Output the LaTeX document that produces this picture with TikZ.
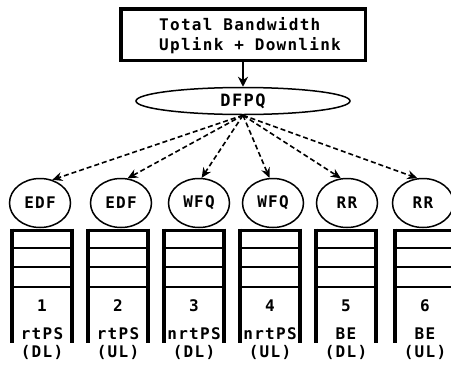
\documentclass[tikz,border=0pt]{standalone}
\usepackage{fontspec}
\usetikzlibrary{arrows.meta,shapes.geometric}
\newfontfamily\labfont[LetterSpace=8]{DejaVu Sans Mono}
\begin{document}
\begin{tikzpicture}[x=1pt,y=-1pt,
  lab/.style={font={\labfont\bfseries\fontsize{16}{18}\selectfont}, inner sep=0pt},
  bwbox/.style={draw, line width=3.5pt, minimum width=244.5pt, minimum height=51.5pt, inner sep=0pt},
  dfpqnode/.style={ellipse, draw, line width=1.5pt, minimum width=214pt, minimum height=27pt, inner sep=0pt,
     font={\labfont\bfseries\fontsize{17}{18}\selectfont}},
  sched/.style={ellipse, draw, line width=1.5pt, minimum width=61pt, minimum height=49pt, inner sep=0pt,
     font={\labfont\bfseries\fontsize{16}{18}\selectfont}},
  qside/.style={line width=3.5pt},
  qline/.style={line width=2.5pt},
  dasharrow/.style={line width=1.6pt, dash pattern=on 5pt off 3pt, -{Stealth[length=10pt,width=9pt]}},
  solidarrow/.style={line width=2pt, -{Stealth[length=10pt,width=10pt]}}
]
\useasboundingbox (0,0) rectangle (451,365);
\clip (0,0) rectangle (451,365);
\fill[white] (0,0) rectangle (451,365);

\node[bwbox] (bw) at (243,34.5) {};
\node[lab, anchor=base west] (bw1) at (159,30) {Total Bandwidth};
\node[lab, anchor=base west] (bw2) at (159,50) {Uplink + Downlink};

\node[dfpqnode] (dfpq) at (243,101) {DFPQ};
\draw[solidarrow] (bw.south) -- (dfpq.north);

\foreach \i/\cx/\ql/\sch/\typ/\dir/\ang in {1/40/12/EDF/rtPS/DL/62, 2/121/88/EDF/rtPS/UL/75, 3/199/164/WFQ/nrtPS/DL/84, 4/273/240/WFQ/nrtPS/UL/98, 5/347/316/RR/BE/DL/104, 6/423/395/RR/BE/UL/103}{
  \node[sched] (c\i) at (\cx,203) {\sch};
  \draw[dasharrow] (dfpq.south) -- (c\i.\ang);
  \pgfmathsetmacro\qr{\ql+60}
  \pgfmathsetmacro\qc{\ql+30}
  \draw[qside] (\ql,228.5) -- (\ql,343);
  \draw[qside] (\qr,228.5) -- (\qr,343);
  \draw[qline, line width=3pt] (\ql,230) -- (\qr,230);
  \draw[qline, line width=2pt] (\ql,248) -- (\qr,248);
  \draw[qline] (\ql,267) -- (\qr,267);
  \draw[qline] (\ql,287) -- (\qr,287);
  \node[lab, anchor=base] (n\i) at (\qc,311) {\i};
  \node[lab, anchor=base] (t\i) at (\qc,339) {\typ};
  \node[lab, anchor=base] (d\i) at (\qc,357) {(\dir)};
}
\end{tikzpicture}
\end{document}
